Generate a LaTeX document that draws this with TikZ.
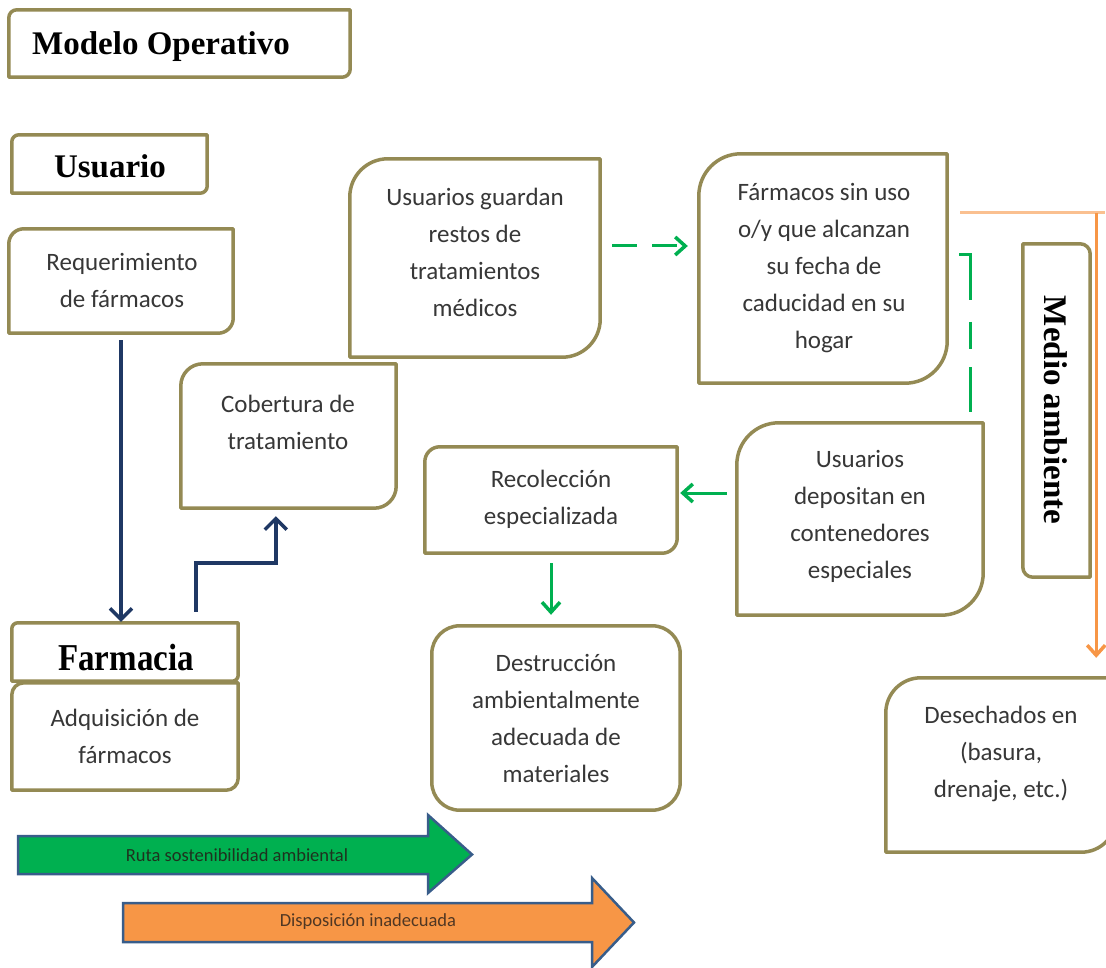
\documentclass[tikz,border=0pt]{standalone}
\usepackage{fontspec}
\setmainfont{Carlito}
\newfontfamily\ttlfont{Liberation Serif}
\usetikzlibrary{arrows.meta,calc}
\definecolor{olivebd}{RGB}{148,138,84}
\definecolor{navy}{RGB}{31,56,100}
\definecolor{grn}{RGB}{0,176,80}
\definecolor{org}{RGB}{247,150,70}
\definecolor{lorg}{RGB}{250,192,144}
\definecolor{bdr}{RGB}{56,93,138}
\definecolor{txt}{RGB}{55,55,55}
\definecolor{gtxt}{RGB}{30,50,30}
\definecolor{otxt}{RGB}{80,55,35}
\tikzset{
  box/.style={rectangle, draw=none, inner sep=0pt},
  frame/.style={draw=olivebd, line width=3.5pt, fill=white, line join=round},
  body/.style={font=\fontsize{25}{37}\selectfont, text=txt, align=center, inner sep=0pt},
  ttl/.style={font=\ttlfont\bfseries\fontsize{33}{38}\selectfont, text=black, inner sep=0pt},
  small/.style={font=\fontsize{18.5}{22}\selectfont, inner sep=0pt},
  navyarrow/.style={draw=navy, line width=3.5pt, -{Straight Barb[length=11pt,width=22pt,line width=3.5pt]}},
  grnarrow/.style={draw=grn, line width=3pt, -{Straight Barb[length=10pt,width=18pt,line width=3.5pt]}},
  grndash/.style={draw=grn, line width=3pt},
  orgarrow/.style={draw=org, line width=3pt, -{Straight Barb[length=10pt,width=18pt,line width=3.5pt]}},
  lorgline/.style={draw=lorg, line width=3pt},
  blockarrow/.style={draw=bdr, line width=2.5pt, line join=miter},
}
% frame with top-left and bottom-right rounded corners
\newcommand\frameTLBR[2]{\draw[frame] ($(#1.north west)+(0,#2)$) arc[start angle=180,end angle=270,radius=#2] -- (#1.north east) -- ($(#1.south east)-(0,#2)$) arc[start angle=0,end angle=90,radius=#2] -- (#1.south west) -- cycle;}
% frame with top-right and bottom-left rounded corners
\newcommand\frameTRBL[2]{\draw[frame] (#1.north west) -- ($(#1.north east)-(#2,0)$) arc[start angle=270,end angle=360,radius=#2] -- (#1.south east) -- ($(#1.south west)+(#2,0)$) arc[start angle=90,end angle=180,radius=#2] -- cycle;}
\begin{document}
\begin{tikzpicture}[x=1pt,y=-1pt]
\useasboundingbox[fill=white] (0,0) rectangle (1106,968);

% ---- box nodes (geometry) ----
\node[box, minimum width=341pt, minimum height=67pt] (mod) at (179.5,43.5) {};
\node[box, minimum width=195pt, minimum height=58pt] (usu) at (109.5,164) {};
\node[box, minimum width=224pt, minimum height=104pt] (req) at (121,281) {};
\node[box, minimum width=215pt, minimum height=144pt] (cob) at (288.5,436) {};
\node[box, minimum width=250pt, minimum height=198pt] (gua) at (475,258) {};
\node[box, minimum width=248pt, minimum height=229pt] (fa) at (823,268.5) {};
\node[box, minimum width=67pt, minimum height=333pt] (med) at (1056.5,410.5) {};
\node[box, minimum width=246pt, minimum height=192pt] (dep) at (860,519) {};
\node[box, minimum width=252pt, minimum height=106pt] (rec) at (551,500) {};
\node[box, minimum width=248pt, minimum height=184pt] (des) at (556,718) {};
\node[box, minimum width=226pt, minimum height=58pt] (far) at (125,652) {};
\node[box, minimum width=226pt, minimum height=107pt] (adq) at (125,736.5) {};
\node[box, minimum width=230pt, minimum height=174pt] (dese) at (1001,765) {};

% ---- frames ----
\frameTLBR{mod}{8}
\frameTLBR{usu}{7}
\frameTLBR{req}{15}
\frameTLBR{cob}{22}
\frameTLBR{gua}{38}
\frameTLBR{fa}{42}
\frameTRBL{med}{10}
\frameTLBR{dep}{42}
\frameTLBR{rec}{15}
\draw[frame, rounded corners=28pt] (des.north west) rectangle (des.south east);
\frameTLBR{far}{6}
\frameTLBR{adq}{12}
\frameTLBR{dese}{35}

% ---- texts ----
\node[ttl, anchor=base west] (modT) at (32,55) {Modelo Operativo};
\node[ttl, anchor=base] (usuT) at (110,178) {Usuario};
\node[ttl, anchor=base] (farT) at (126,670) {\scalebox{1}[1.15]{Farmacia}};
\node[ttl, rotate=-90] (medT) at (1056,410) {Medio ambiente};
\node[body] (reqT) at (122,280.5) {Requerimiento\\de fármacos};
\node[body] (cobT) at (288,422.5) {Cobertura de\\tratamiento};
\node[body] (guaT) at (475,252) {Usuarios guardan\\restos de\\tratamientos\\médicos};
\node[body] (faT) at (824,268) {Fármacos sin uso\\o/y que alcanzan\\su fecha de\\caducidad en su\\hogar};
\node[body] (depT) at (860,516) {Usuarios\\depositan en\\contenedores\\especiales};
\node[body] (recT) at (551,499) {Recolección\\especializada};
\node[body] (desT) at (556,718) {Destrucción\\ambientalmente\\adecuada de\\materiales};
\node[body] (adqT) at (125,736) {Adquisición de\\fármacos};
\node[body] (deseT) at (1001,754) {Desechados en\\(basura,\\drenaje, etc.)};

% ---- navy connectors ----
\draw[navyarrow, shorten <=7pt, shorten >=1pt] (req.south) -- (req.south |- far.north);
\draw[navyarrow, shorten <=11pt, shorten >=8pt] ($(far.north west)+(184,0)$) |- ($(cob.south west)+(95,55)$) -- ($(cob.south west)+(95,0)$);

% ---- green connectors ----
\draw[grndash, dash pattern=on 25pt off 15pt, -{Straight Barb[length=10pt,width=18pt,line width=3.5pt]}, shorten <=12pt, shorten >=11pt]
  ($(gua.east)+(0,-12)$) -- ($(fa.west)+(0,-22.5)$);
\draw[grndash, dash pattern=on 56pt off 22pt on 27pt off 18pt on 60pt off 10pt]
  ($(fa.east)+(12,-13.5)$) -| ($(dep.north east)+(-13,-11)$);
\draw[grnarrow, shorten <=10pt, shorten >=3pt] ($(dep.west)+(0,-26)$) -- ($(rec.east)+(0,-7)$);
\draw[grnarrow, shorten <=10pt, shorten >=11pt] (rec.south) -- (rec.south |- des.north);

% ---- orange connector ----
\coordinate (oc) at ($(fa.east)+(149,-55.5)$);
\draw[lorgline] ($(fa.east)+(13,-55.5)$) -- ($(fa.east)+(158,-55.5)$);
\draw[orgarrow, shorten >=20pt] (oc) -- (oc |- dese.north);

% ---- legend block arrows ----
\draw[blockarrow, fill=grn] (18,836) -- (428,836) -- (428,815) -- (472,854.5) -- (428,893) -- (428,874) -- (18,874) -- cycle;
\node[small, text=gtxt] (ruta) at (237,855) {Ruta sostenibilidad ambiental};
\draw[blockarrow, fill=org] (123,903) -- (592,903) -- (592,878) -- (634,922.5) -- (592,967) -- (592,942) -- (123,942) -- cycle;
\node[small, text=otxt] (disp) at (368,922) {Disposición inadecuada};
\end{tikzpicture}
\end{document}
